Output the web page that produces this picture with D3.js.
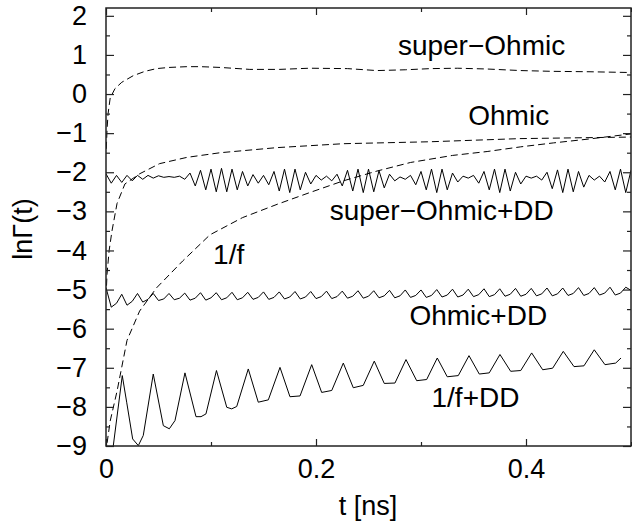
<!DOCTYPE html>
<html>
<head>
<meta charset="utf-8">
<script src="https://cdn.jsdelivr.net/npm/d3@7"></script>
<style>
    body { margin: 0; background: #fff; }
    #chart-area { width: 632px; height: 531px; }
    .axis text { font-family: "Liberation Sans", Arial, Helvetica, sans-serif; font-size: 27px; fill: #000; }
    .axis line { stroke: #222; stroke-width: 1.2; }
    .axis path { display: none; }
    .lbl { font-family: "Liberation Sans", Arial, Helvetica, sans-serif; font-size: 28px; fill: #000; }
</style>
</head>
<body>
<div id="chart-area"></div>
<script>

// ---- data ----

// dashed curves (no dynamical decoupling)
let superOhmicT = [0.0003, 0.001, 0.002, 0.004, 0.0086, 0.015, 0.026, 0.037, 0.048, 0.06, 0.077, 0.09, 0.109, 0.137, 0.165, 0.194, 0.23, 0.258, 0.285, 0.309, 0.335, 0.363, 0.395, 0.426, 0.46, 0.5];
let superOhmicV = [-1.4, -0.9, -0.5, -0.1, 0.14, 0.3, 0.47, 0.58, 0.65, 0.68, 0.70, 0.70, 0.68, 0.63, 0.63, 0.66, 0.65, 0.60, 0.62, 0.65, 0.66, 0.64, 0.60, 0.58, 0.57, 0.55];

let ohmicT = [0.0005, 0.001, 0.003, 0.0057, 0.0105, 0.018, 0.032, 0.051, 0.077, 0.109, 0.163, 0.226, 0.309, 0.394, 0.5];
let ohmicV = [-4.9, -4.6, -4.0, -3.5, -2.8, -2.3, -2.04, -1.78, -1.62, -1.5, -1.37, -1.27, -1.22, -1.14, -1.1];

let oneOverFT = [0.0005, 0.001, 0.004, 0.0105, 0.02, 0.032, 0.048, 0.073, 0.099, 0.13, 0.163, 0.194, 0.226, 0.258, 0.29, 0.33, 0.363, 0.395, 0.426, 0.46, 0.5];
let oneOverFV = [-9.2, -8.93, -8.36, -7.6, -6.3, -5.55, -4.96, -4.27, -3.6, -3.16, -2.82, -2.52, -2.22, -1.97, -1.75, -1.57, -1.47, -1.35, -1.25, -1.15, -1.02];

// solid curves (with DD), sampled every 0.005 ns
let ddStep = 0.005;
let superOhmicDD = [
    -2.04, -2.28, -2.08, -2.26, -2.08, -2.22, -2.08, -2.18, -2.08, -2.15,
    -2.09, -2.13, -2.11, -2.13, -2.10, -2.18, -2.02, -2.35, -1.95, -2.45,
    -1.92, -2.50, -1.90, -2.50, -1.92, -2.45, -1.98, -2.35, -2.06, -2.28,
    -2.08, -2.32, -1.98, -2.48, -1.92, -2.52, -1.92, -2.45, -2.00, -2.30,
    -2.08, -2.20, -2.10, -2.22, -2.05, -2.35, -1.95, -2.48, -1.92, -2.52,
    -1.92, -2.50, -1.96, -2.40, -2.05, -2.22, -2.12, -2.18, -2.08, -2.32,
    -1.98, -2.45, -1.92, -2.52, -1.92, -2.45, -2.02, -2.25, -2.10, -2.15,
    -2.08, -2.28, -1.98, -2.45, -1.92, -2.52, -1.92, -2.48, -2.00, -2.30,
    -2.10, -2.15, -2.10, -2.20, -2.00, -2.42, -1.94, -2.52, -1.92, -2.50,
    -1.98, -2.38, -2.08, -2.20, -2.10, -2.25, -1.98, -2.45, -1.92, -2.52,
    -1.95
];
let ohmicDD = [
    -4.95, -5.45, -5.35, -5.12, -5.40, -5.30, -5.10, -5.32, -5.25, -5.10,
    -5.28, -5.24, -5.10, -5.26, -5.22, -5.09, -5.27, -5.22, -5.08, -5.27,
    -5.21, -5.08, -5.26, -5.21, -5.07, -5.26, -5.21, -5.07, -5.25, -5.20,
    -5.06, -5.25, -5.20, -5.06, -5.24, -5.19, -5.05, -5.24, -5.19, -5.05,
    -5.23, -5.18, -5.04, -5.23, -5.18, -5.04, -5.22, -5.17, -5.03, -5.22,
    -5.17, -5.03, -5.21, -5.16, -5.02, -5.21, -5.16, -5.01, -5.20, -5.15,
    -5.01, -5.20, -5.15, -5.00, -5.19, -5.14, -4.99, -5.19, -5.14, -4.99,
    -5.18, -5.13, -4.98, -5.18, -5.13, -4.98, -5.17, -5.12, -4.97, -5.17,
    -5.12, -4.97, -5.16, -5.11, -4.96, -5.16, -5.11, -4.96, -5.15, -5.10,
    -4.95, -5.15, -5.10, -4.95, -5.14, -5.09, -4.94, -5.14, -5.09, -4.94,
    -5.02
];

// 1/f+DD: vertices read one by one
let oneOverFDDT = [0.005, 0.0155, 0.0197, 0.0254, 0.0308, 0.0355, 0.045, 0.0546, 0.0603, 0.0657,
    0.0752, 0.0857, 0.0905, 0.0952, 0.1052, 0.115, 0.1197, 0.1245, 0.1355, 0.145,
    0.1546, 0.1657, 0.1752, 0.1848, 0.1959, 0.2054, 0.215, 0.226, 0.2355, 0.245,
    0.2555, 0.265, 0.2752, 0.2857, 0.2959, 0.3054, 0.3155, 0.325, 0.3355, 0.3457,
    0.3555, 0.365, 0.3752, 0.3854, 0.395, 0.4054, 0.4159, 0.4254, 0.4355, 0.4457,
    0.4552, 0.465, 0.4752, 0.4854, 0.4905];
let oneOverFDDV = [-9.4, -7.2, -7.88, -8.82, -8.99, -8.73, -7.16, -8.48, -8.56, -8.35,
    -7.13, -8.25, -8.25, -8.18, -7.07, -8.01, -8.05, -7.99, -7.03, -7.88,
    -7.82, -6.99, -7.74, -7.72, -6.92, -7.63, -7.58, -6.88, -7.51, -7.45,
    -6.83, -7.40, -7.39, -6.79, -7.33, -7.30, -6.75, -7.23, -7.20, -6.69,
    -7.16, -7.13, -6.66, -7.09, -7.07, -6.62, -7.05, -7.01, -6.58, -6.97,
    -6.95, -6.54, -6.92, -6.88, -6.75];

// ticks
let xTickVals = [0, 0.1, 0.2, 0.3, 0.4, 0.5];
let xLabelVals = [0, 0.2, 0.4];
let yLabelVals = [-9, -8, -7, -6, -5, -4, -3, -2, -1, 0, 1, 2];
let yMinorVals = [-8.5, -7.5, -6.5, -5.5, -4.5, -3.5, -2.5, -1.5, -0.5, 0.5, 1.5];

// curve annotations
let curveLabels = [
    {text: "super\u2212Ohmic", t: 0.278, v: 1.0},
    {text: "Ohmic", t: 0.345, v: -0.8},
    {text: "super\u2212Ohmic+DD", t: 0.213, v: -3.23},
    {text: "1/f", t: 0.102, v: -4.35},
    {text: "Ohmic+DD", t: 0.289, v: -5.9},
    {text: "1/f+DD", t: 0.31, v: -8.0}
];


class LineChart {

    constructor(parentElement) {
        this.parentElement = parentElement;
        this.initVis();
    }

    initVis() {
        let vis = this;

        vis.margin = {top: 8, right: 1, bottom: 85, left: 106};
        vis.width = 632 - vis.margin.left - vis.margin.right;
        vis.height = 531 - vis.margin.top - vis.margin.bottom;

        vis.svg = d3.select("#" + vis.parentElement).append("svg")
            .attr("width", 632)
            .attr("height", 531)
            .append("g")
            .attr("transform", `translate(${vis.margin.left}, ${vis.margin.top})`);

        vis.svg.append("clipPath").attr("id", "clip")
            .append("rect")
            .attr("width", vis.width)
            .attr("height", vis.height);

        vis.x = d3.scaleLinear().domain([0, 0.5]).range([0, vis.width]);
        vis.y = d3.scaleLinear().domain([-9, 2.2]).range([vis.height, 0]);

        vis.wrangleData();
    }

    wrangleData() {
        let vis = this;

        let zipT = (ts, vs) => vs.map((v, i) => ({t: ts[i], v: v}));
        let grid = (vs) => vs.map((v, i) => ({t: i * ddStep, v: v}));

        vis.dashed = [
            zipT(superOhmicT, superOhmicV),
            zipT(ohmicT, ohmicV),
            zipT(oneOverFT, oneOverFV)
        ];
        vis.solid = [
            grid(superOhmicDD),
            grid(ohmicDD),
            zipT(oneOverFDDT, oneOverFDDV)
        ];

        vis.updateVis();
    }

    updateVis() {
        let vis = this;

        let line = d3.line()
            .x(d => vis.x(d.t))
            .y(d => vis.y(d.v));

        let plot = vis.svg.append("g").attr("clip-path", "url(#clip)");

        plot.selectAll(".dashed")
            .data(vis.dashed)
            .enter()
            .append("path")
            .attr("class", "dashed")
            .attr("d", line)
            .attr("fill", "none")
            .attr("stroke", "#000")
            .attr("stroke-width", 1)
            .attr("stroke-dasharray", "7,4");

        plot.selectAll(".solid")
            .data(vis.solid)
            .enter()
            .append("path")
            .attr("class", "solid")
            .attr("d", line)
            .attr("fill", "none")
            .attr("stroke", "#000")
            .attr("stroke-width", 1);

        // axes, ticks pointing inward on all four sides
        let fmtX = d => d === 0 ? "0" : d3.format(".1f")(d);

        vis.svg.append("g").attr("class", "axis")
            .attr("transform", `translate(0, ${vis.height})`)
            .call(d3.axisBottom(vis.x).tickValues(xLabelVals).tickSize(-7).tickPadding(13).tickFormat(fmtX));
        vis.svg.append("g").attr("class", "axis")
            .attr("transform", `translate(0, ${vis.height})`)
            .call(d3.axisBottom(vis.x).tickValues(xTickVals.filter(d => !xLabelVals.includes(d))).tickSize(-4).tickFormat(""));
        vis.svg.append("g").attr("class", "axis")
            .call(d3.axisTop(vis.x).tickValues(xLabelVals).tickSize(-7).tickFormat(""));
        vis.svg.append("g").attr("class", "axis")
            .call(d3.axisTop(vis.x).tickValues(xTickVals.filter(d => !xLabelVals.includes(d))).tickSize(-4).tickFormat(""));

        vis.svg.append("g").attr("class", "axis")
            .call(d3.axisLeft(vis.y).tickValues(yLabelVals).tickSize(-8).tickPadding(19).tickFormat(d3.format("d")));
        vis.svg.append("g").attr("class", "axis")
            .call(d3.axisLeft(vis.y).tickValues(yMinorVals).tickSize(-4).tickFormat(""));
        vis.svg.append("g").attr("class", "axis")
            .attr("transform", `translate(${vis.width}, 0)`)
            .call(d3.axisRight(vis.y).tickValues(yLabelVals).tickSize(-8).tickFormat(""));
        vis.svg.append("g").attr("class", "axis")
            .attr("transform", `translate(${vis.width}, 0)`)
            .call(d3.axisRight(vis.y).tickValues(yMinorVals).tickSize(-4).tickFormat(""));

        // frame
        vis.svg.append("rect")
            .attr("width", vis.width)
            .attr("height", vis.height)
            .attr("fill", "none")
            .attr("stroke", "#222")
            .attr("stroke-width", 1.5);

        // curve labels
        vis.svg.selectAll(".lbl")
            .data(curveLabels)
            .enter()
            .append("text")
            .attr("class", "lbl")
            .attr("x", d => vis.x(d.t))
            .attr("y", d => vis.y(d.v))
            .text(d => d.text);

        // axis titles
        vis.svg.append("text")
            .attr("class", "lbl")
            .attr("x", 262)
            .attr("y", 507)
            .attr("text-anchor", "middle")
            .style("font-size", "27px")
            .text("t [ns]");

        vis.svg.append("text")
            .attr("class", "lbl")
            .attr("transform", `translate(-74, 221) rotate(-90)`)
            .attr("text-anchor", "middle")
            .style("font-size", "27px")
            .text("ln\u0393(t)");
    }
}

new LineChart("chart-area");

</script>
</body>
</html>
